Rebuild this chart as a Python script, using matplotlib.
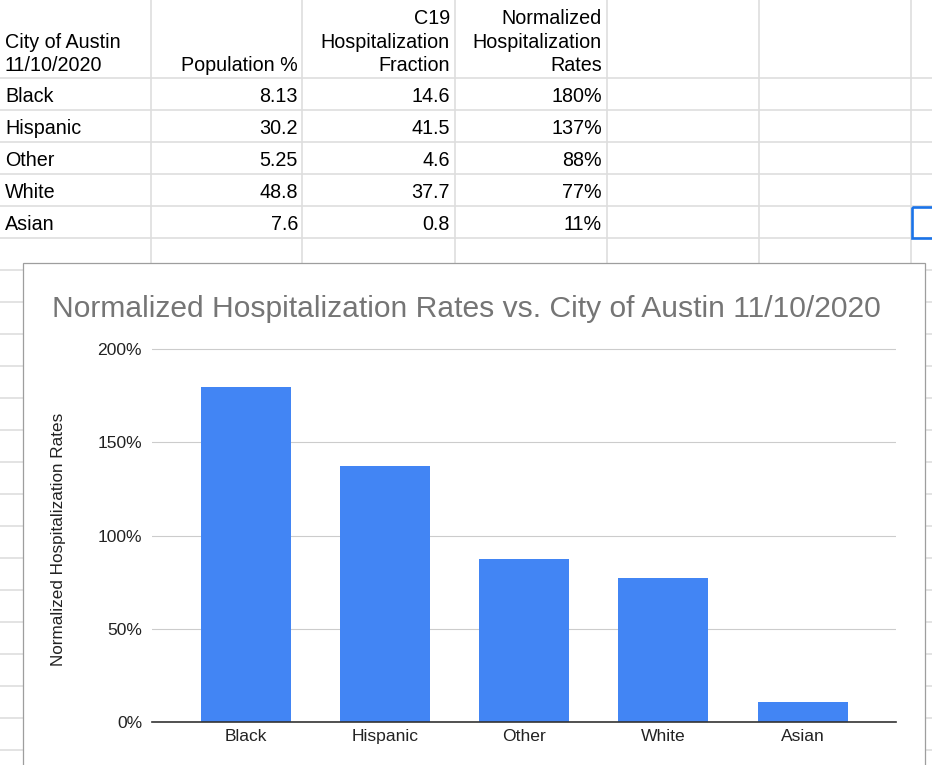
import matplotlib
matplotlib.use("Agg")
import matplotlib.pyplot as plt
from matplotlib.patches import Rectangle
from matplotlib.ticker import FuncFormatter

plt.rcParams['font.family'] = ['Liberation Sans', 'DejaVu Sans']

# ---------------- data ----------------
groups = ["Black", "Hispanic", "Other", "White", "Asian"]
population_pct = [8.13, 30.2, 5.25, 48.8, 7.6]
c19_fraction = [14.6, 41.5, 4.6, 37.7, 0.8]
normalized_rates = [179.6, 137.4, 87.6, 77.3, 10.6]
y_ticks = [0, 50, 100, 150, 200]
title = "Normalized Hospitalization Rates vs. City of Austin 11/10/2020"
y_label = "Normalized Hospitalization Rates"

W, H = 932, 765
fig = plt.figure(figsize=(W / 100, H / 100), dpi=100)

# background "spreadsheet" layer in pixel coordinates
bg = fig.add_axes([0, 0, 1, 1])
bg.set_xlim(0, W)
bg.set_ylim(H, 0)
bg.axis("off")

grid_c = "#dedede"
col_edges = [151, 302, 454.5, 606.5, 759, 911]
row_edges = [77.5 + 32 * k for k in range(22)]
for x in col_edges:
    bg.plot([x, x], [0, H], color=grid_c, lw=1.2, zorder=1)
for y in row_edges:
    bg.plot([0, W], [y, y], color=grid_c, lw=1.2, zorder=1)

txt_kw = dict(fontsize=14.2, color="#000000", va="baseline", zorder=3)
# header cells
bg.text(5, 48, "City of Austin", ha="left", **txt_kw)
bg.text(5, 71, "11/10/2020", ha="left", **txt_kw)
bg.text(298, 71, "Population %", ha="right", **txt_kw)
for yy, s in zip([24, 48, 71], ["C19", "Hospitalization", "Fraction"]):
    bg.text(450, yy, s, ha="right", **txt_kw)
for yy, s in zip([24, 48, 71], ["Normalized", "Hospitalization", "Rates"]):
    bg.text(602, yy, s, ha="right", **txt_kw)
# data rows
for i, g in enumerate(groups):
    base = row_edges[i + 1] - 7.5
    bg.text(5, base, g, ha="left", **txt_kw)
    bg.text(298, base, f"{population_pct[i]:g}", ha="right", **txt_kw)
    bg.text(450, base, f"{c19_fraction[i]:g}", ha="right", **txt_kw)
    bg.text(602, base, f"{round(normalized_rates[i]):d}%", ha="right", **txt_kw)

# selected cell
bg.add_patch(Rectangle((911.5, 206.5), 40, 31.5, fill=False,
                       edgecolor="#1a73e8", lw=1.9, zorder=4))

# chart card
bg.add_patch(Rectangle((23, 263), 902, 520, facecolor="white",
                       edgecolor="#9e9e9e", lw=0.9, zorder=5))
bg.text(52, 317, title, ha="left", va="baseline", fontsize=21.6,
        color="#757575", zorder=6)
bg.text(59, 539, y_label, ha="center", va="center", rotation=90,
        fontsize=12.3, color="#222222", zorder=6)

# ---------------- chart axes ----------------
px_per_unit = 373 / 200
ytop = 202
left, right, zero_y = 152, 896, 722
ax = fig.add_axes([left / W, (H - zero_y) / H, (right - left) / W,
                   ytop * px_per_unit / H])
ax.set_zorder(10)
ax.patch.set_alpha(0)

xpos = list(range(len(groups)))
ax.bar(xpos, normalized_rates, width=0.647, color="#4285f4", zorder=3)
ax.set_xlim(-0.676, 4.672)
ax.set_ylim(0, ytop)
ax.set_yticks(y_ticks)
ax.yaxis.set_major_formatter(FuncFormatter(lambda v, p: f"{v:.0f}%"))
ax.set_xticks(xpos)
ax.set_xticklabels(groups)
ax.grid(axis="y", color="#cccccc", lw=0.8, zorder=0)
ax.set_axisbelow(True)
for s in ["left", "right", "top"]:
    ax.spines[s].set_visible(False)
ax.spines["bottom"].set_color("#333333")
ax.spines["bottom"].set_linewidth(1.2)
ax.spines["bottom"].set_zorder(4)
ax.tick_params(axis="both", length=0, labelsize=12.6, labelcolor="#222222")
ax.tick_params(axis="y", pad=7.2)
ax.tick_params(axis="x", pad=5)

fig.savefig("out.png", dpi=100)
